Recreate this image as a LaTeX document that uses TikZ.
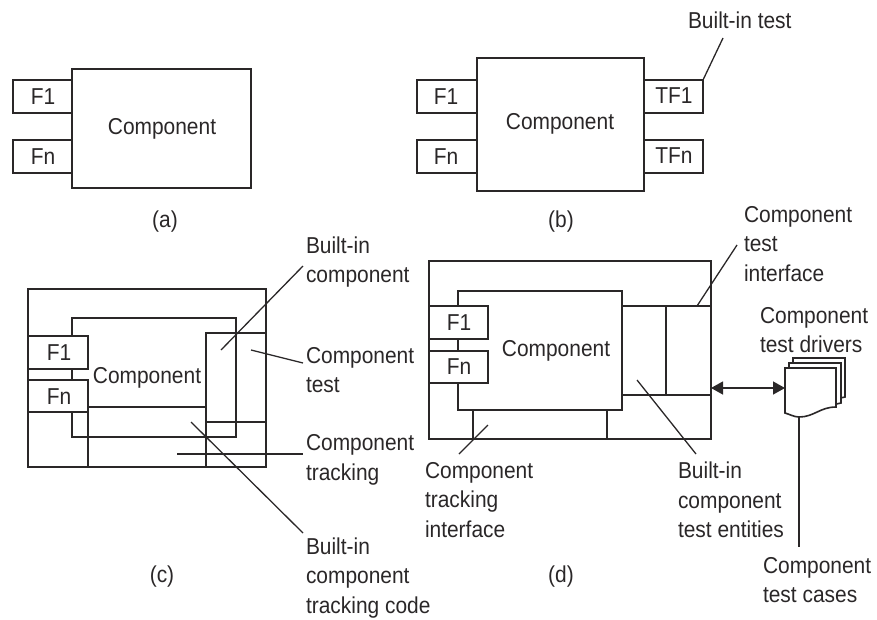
\documentclass[tikz,border=0pt]{standalone}
\usepackage{fontspec}
\setmainfont[FakeStretch=0.91]{Liberation Sans}
\usetikzlibrary{arrows.meta}
\definecolor{ink}{HTML}{2A2728}
\newcommand{\bx}[6][]{\node[boxs,#1,minimum width={(#5-#3)*1pt},minimum height={(#6-#4)*1pt}] (#2) at ({(#3+#5)/2},{(#4+#6)/2}) {};}
\tikzset{
  boxs/.style={draw=ink,line width=1.6pt,inner sep=0pt,outer sep=0pt},
  fbox/.style={fill=white},
  lbl/.style={text=ink,inner sep=0pt,outer sep=0pt,font=\fontsize{23}{29.7}\selectfont},
  note/.style={lbl,align=left,anchor=west},
  leader/.style={draw=ink,line width=1.3pt},
}
\begin{document}
\begin{tikzpicture}[x=1pt,y=-1pt]
\useasboundingbox (0,0) rectangle (877,619);
% (a)
\bx{ac}{72}{69}{251}{188}
\bx[fbox]{af1}{13}{80}{72}{113}
\bx[fbox]{afn}{13}{140}{72}{173}
\node[lbl] at (162,129) {Component};
\node[lbl] at (43,97) {F1};
\node[lbl] at (43,157) {Fn};
\node[lbl] at (165,222) {(a)};
% (b)
\bx{bc}{477}{58}{644}{191}
\bx[fbox]{bf1}{417}{80}{477}{113}
\bx[fbox]{bfn}{417}{140}{477}{173}
\bx[fbox]{btf1}{644}{80}{703}{113}
\bx[fbox]{btfn}{644}{140}{703}{173}
\node[lbl] at (560,124) {Component};
\node[lbl] at (446,97) {F1};
\node[lbl] at (446,157) {Fn};
\node[lbl] at (674,96) {TF1};
\node[lbl] at (674,156) {TFn};
\node[lbl] at (561,222) {(b)};
\node[note] (bnote) at (688,20) {Built-in test};
\coordinate (bnoteend) at (723,38);
\draw[leader] (btf1.north east) -- (bnoteend);
% (c)
\bx{co}{28}{289}{266}{467}
\bx{cc}{72}{318}{236}{437}
\bx{ct}{206}{333}{266}{422}
\bx{ctr}{88}{407}{206}{467}
\bx{ctr2}{206}{422}{266}{467}
\bx[fbox]{cf1}{28}{336}{88}{369}
\bx[fbox]{cfn}{28}{380}{88}{412}
\node[lbl] at (147,378) {Component};
\node[lbl] at (59,353) {F1};
\node[lbl] at (59,397) {Fn};
\node[lbl] at (162,577) {(c)};
\node[note] (cn1) at (306,262) {Built-in\\component};
\node[note] (cn2) at (306,370) {Component\\test};
\node[note] (cn3) at (306,460) {Component\\tracking};
\node[note] (cn4) at (306,578) {Built-in\\component\\tracking code};
\coordinate (c1a) at (221,350); \coordinate (c1b) at (303,266);
\coordinate (c2a) at (251,350); \coordinate (c2b) at (303,363);
\coordinate (c3a) at (177,454); \coordinate (c3b) at (303,454);
\coordinate (c4a) at (191,422); \coordinate (c4b) at (303,533);
\draw[leader] (c1a) -- (c1b);
\draw[leader] (c2a) -- (c2b);
\draw[leader] (c3a) -- (c3b);
\draw[leader] (c4a) -- (c4b);
% (d)
\bx{do}{429}{261}{711}{439}
\bx{dc}{458}{291}{622}{410}
\bx{dt}{622}{306}{711}{395}
\bx{dti}{666}{306}{711}{395}
\bx{dtr}{473}{410}{607}{439}
\bx[fbox]{df1}{429}{306}{488}{339}
\bx[fbox]{dfn}{429}{351}{488}{383}
\node[lbl] at (556,351) {Component};
\node[lbl] at (459,323) {F1};
\node[lbl] at (459,367) {Fn};
\node[lbl] at (561,577) {(d)};
\node[note] (dn1) at (744,244) {Component\\test\\interface};
\node[note] (dn2) at (760,330) {Component\\test drivers};
\node[note] (dn3) at (425,500) {Component\\tracking\\interface};
\node[note] (dn4) at (678,500) {Built-in\\component\\test entities};
\node[note] (dn5) at (763,580) {Component\\test cases};
\coordinate (d1a) at (697,306); \coordinate (d1b) at (737,245);
\coordinate (d2a) at (488,425); \coordinate (d2b) at (459,454);
\coordinate (d3a) at (637,380); \coordinate (d3b) at (696,454);
\draw[leader] (d1a) -- (d1b);
\draw[leader] (d2a) -- (d2b);
\draw[leader] (d3a) -- (d3b);
% document stack
\draw[boxs,fill=white] (793,358) -- (845,358) -- (845,397) -- (836,399) -- (793,399) -- cycle;
\draw[boxs,fill=white] (789,363) -- (841,363) -- (841,403) -- (832,405) -- (789,405) -- cycle;
\draw[boxs,fill=white] (785,368) -- (836,368) -- (836,407) .. controls (820,407) and (814,417) .. (799,417) .. controls (794,417) and (789,414) .. (785,413) -- cycle;
\coordinate (docw) at (785,388);
\coordinate (docs) at (799,417);
\coordinate (doe) at (711,388);
\coordinate (cases) at (799,547);
\draw[leader,line width=1.4pt,{Triangle[length=12pt,width=13pt]}-{Triangle[length=12pt,width=13pt]}] (doe) -- (docw);
\draw[leader] (docs) -- (cases);
\end{tikzpicture}
\end{document}
